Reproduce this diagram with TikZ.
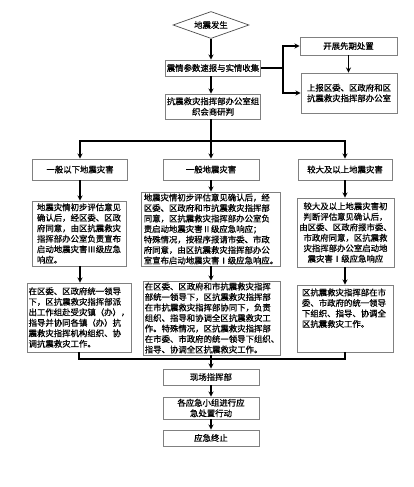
\documentclass[tikz,border=0pt]{standalone}
\usepackage{fontspec}
\newfontfamily\cjk[FakeBold=0.6]{Noto Sans CJK SC}
\usepackage{tikz}
\usetikzlibrary{shapes.geometric,arrows,calc}
\tikzset{%
  box/.style    = {draw=black!50, line width=0.7pt, rectangle, fill=white,
    inner sep=1.5pt, font=\cjk\fontsize{8.4}{10.5}\selectfont},
  decision/.style = {draw=black!70, line width=0.7pt, diamond, aspect=3,
    inner sep=0pt, font=\cjk\fontsize{8.4}{10.5}\selectfont},
  fork/.style   = {coordinate}
}

\begin{document}
\begin{tikzpicture}[x=1pt, y=-1pt,
            % Define the styles for connectors
            connection/.style={-stealth, line width=1.3pt},
            line/.style={line width=1.3pt},
            ]
            \useasboundingbox (0,0) rectangle (414,487);

            % Start
            \node[decision, minimum width=76, minimum height=27] (start) at (211,25) {地震发生};

            % Collection and study
            \node[box, minimum width=95, minimum height=16] (collect) at (213,68) {震情参数速报与实情收集};
            \node[box, minimum width=95, minimum height=25, align=center] (study) at (213,106.5)
                {抗震救灾指挥部办公室组\\织会商研判};

            % Side branch
            \node[box, minimum width=97, minimum height=18] (first) at (348.5,46) {开展先期处置};
            \node[box, minimum width=96, minimum height=40, align=center] (report) at (349,93)
                {上报区委、区政府和区\\抗震救灾指挥部办公室};

            % Levels of disaster
            \node[box, minimum width=95, minimum height=21] (lvA) at (80,169.5) {一般以下地震灾害};
            \node[box, minimum width=96, minimum height=21] (lvB) at (211,169.5) {一般地震灾害};
            \node[box, minimum width=94, minimum height=21] (lvC) at (345,169.5) {较大及以上地震灾害};

            % Responses
            \node[box, minimum width=94, minimum height=65, align=left] (detA) at (79,233.5)
                {地震灾情初步评估意见\\确认后，经区委、区政\\府同意，由区抗震救灾\\指挥部办公室负责宣布\\启动地震灾害Ⅲ级应急\\响应。};
            \node[box, minimum width=139, minimum height=74, align=left] (detB) at (211,229)
                {地震灾情初步评估意见确认后，经\\区委、区政府和市抗震救灾指挥部\\同意，区抗震救灾指挥部办公室负\\责启动地震灾害Ⅱ级应急响应；\\特殊情况，按程序报请市委、市政\\府同意，由区抗震救灾指挥部办公\\室宣布启动地震灾害Ⅰ级应急响应。};
            \node[box, minimum width=97, minimum height=69, align=center] (detC) at (345.5,232.5)
                {较大及以上地震灾害初\\判断评估意见确认后，\\由区委、区政府报市委、\\市政府同意，区抗震救\\灾指挥部办公室启动地\\震灾害Ⅰ级应急响应};

            % Command
            \node[box, minimum width=96, minimum height=69, align=left] (actA) at (79,317.5)
                {在区委、区政府统一领导\\下，区抗震救灾指挥部派\\出工作组赴受灾镇（办），\\指导并协同各镇（办）抗\\震救灾指挥机构组织、协\\调抗震救灾工作。};
            \node[box, minimum width=131, minimum height=70, align=left] (actB) at (212,318)
                {在区委、区政府和市抗震救灾指挥\\部统一领导下，区抗震救灾指挥部\\在市抗震救灾指挥部协同下，负责\\组织、指导和协调全区抗震救灾工\\作。特殊情况，区抗震救灾指挥部\\在市委、市政府的统一领导下组织、\\指导、协调全区抗震救灾工作。};
            \node[box, minimum width=96, minimum height=67] (actC) at (345,318.5)
                {\parbox[t][60pt][t]{86pt}{区抗震救灾指挥部在市\\委、市政府的统一领导\\下组织、指导、协调全\\区抗震救灾工作。}};

            % Final steps
            \node[box, minimum width=96, minimum height=16] (scene) at (211,377) {现场指挥部};
            \node[box, minimum width=96, minimum height=22, align=center] (teams) at (211,408)
                {各应急小组进行应\\急处置行动};
            \node[box, minimum width=96, minimum height=16] (stop) at (211,438) {应急终止};

            % Fork points
            \coordinate (sideF) at (283,68);
            \coordinate (levelF) at (211,141);
            \coordinate (joinF) at (211,359);

            % Connect the top part
            \draw[connection] (start.south) -- (start.south |- collect.north);
            \draw[connection] (collect.south -| start.south) -- (study.north -| start.south);
            \draw[line] (collect.east) -- (sideF);
            \draw[connection] (sideF) |- (first.west);
            \draw[connection] (sideF) |- (report.west);
            \draw[connection] (first.south) -- (report.north -| first.south);

            % Connect study to the levels
            \draw[line] (study.south -| levelF) -- (levelF);
            \foreach \c in {A,B,C}
                \draw[connection] (levelF) -| (lv\c.north);
            \foreach \c in {A,B,C}
                \draw[connection] (lv\c.south) -- (det\c.north -| lv\c.south);
            \foreach \c in {A,B,C}
                \draw[connection] (det\c.south -| lv\c.south) -- (act\c.north -| lv\c.south);

            % Join to the scene command
            \draw[line] (actA.south) |- (joinF) -| (actC.south);
            \draw[connection] (actB.south -| scene.north) -- (scene.north);
            \draw[connection] (scene.south) -- (teams.north);
            \draw[connection] (teams.south) -- (stop.north);

        \end{tikzpicture}
\end{document}
